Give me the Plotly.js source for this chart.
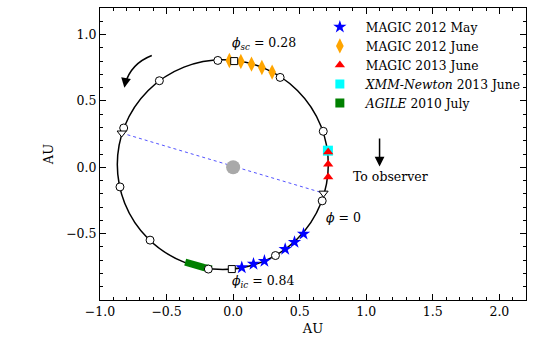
<!DOCTYPE html>
<html>
<head>
<meta charset="utf-8">
<script src="https://cdn.plot.ly/plotly-3.0.1.min.js"></script>
<style>
  html, body { margin: 0; padding: 0; background: #fff; }
  #chart { width: 535px; height: 347px; }
</style>
</head>
<body>
<div id="chart"></div>
<script>
// orbit outline (extent of the drawn ellipse, AU)
const orbitXRange = [-0.87, 0.715];
const orbitYRange = [-0.77, 0.81];

// phase markers every 0.1 in phase (open circles)
const phaseX = [-0.115, 0.353, 0.677, 0.669, 0.318, -0.186, -0.624, -0.85, -0.822, -0.554];
const phaseY = [0.805, 0.677, 0.271, -0.253, -0.665, -0.767, -0.549, -0.148, 0.296, 0.652];

// superior / inferior conjunction (open squares)
const conjX = [0.008, -0.01];
const conjY = [0.80, -0.767];

// line of apsides ends (open down triangles)
const apsX = [-0.837, 0.679];
const apsY = [0.258, -0.195];

// observation campaigns
const magicMayX = [0.065, 0.153, 0.235, 0.391, 0.461, 0.529];
const magicMayY = [-0.755, -0.729, -0.707, -0.617, -0.564, -0.502];

const magicJuneX = [-0.028, 0.058, 0.138, 0.216, 0.293];
const magicJuneY = [0.805, 0.797, 0.777, 0.752, 0.717];

const magic2013X = [0.714, 0.714, 0.714];
const magic2013Y = [0.115, 0.023, -0.073];

const xmmX = [0.712];
const xmmY = [0.125];

const agileX = [-0.36, -0.29, -0.22, -0.16];
const agileY = [-0.715, -0.738, -0.755, -0.766];

// compact object star at the focus
const starX = [0];
const starY = [0];

// tick labels
const xTicks = [-1.0, -0.5, 0.0, 0.5, 1.0, 1.5, 2.0];
const yTicks = [-0.5, 0.0, 0.5, 1.0];

const serif = "'DejaVu Serif', serif";

const traces = [
  {
    x: apsX, y: apsY, type: 'scatter', mode: 'lines', showlegend: false, hoverinfo: 'skip',
    line: { color: 'rgba(40,40,255,0.8)', width: 1, dash: 'dot' },
  },
  {
    x: starX, y: starY, type: 'scatter', mode: 'markers', showlegend: false,
    marker: { color: '#a9a9a9', size: 14 },
  },
  {
    x: magicMayX, y: magicMayY, type: 'scatter', mode: 'markers', name: 'MAGIC 2012 May',
    marker: { symbol: 'star', color: '#0000ff', size: 10 },
  },
  {
    x: magicJuneX, y: magicJuneY, type: 'scatter', mode: 'markers', name: 'MAGIC 2012 June',
    marker: { symbol: 'diamond-tall', color: '#ffa500', size: 11 },
  },
  {
    x: xmmX, y: xmmY, type: 'scatter', mode: 'markers', showlegend: false, legendgroup: 'xmm',
    marker: { symbol: 'square', color: '#00ffff', size: 10 },
  },
  {
    x: magic2013X, y: magic2013Y, type: 'scatter', mode: 'markers', name: 'MAGIC 2013 June',
    marker: { symbol: 'triangle-up', color: '#ff0000', size: 9 },
  },
  {
    x: [null], y: [null], type: 'scatter', mode: 'markers', name: '<i>XMM-Newton</i> 2013 June',
    legendgroup: 'xmm',
    marker: { symbol: 'square', color: '#00ffff', size: 9 },
  },
  {
    x: agileX, y: agileY, type: 'scatter', mode: 'lines', showlegend: false, legendgroup: 'agile',
    line: { color: '#008000', width: 7 },
  },
  {
    x: [null], y: [null], type: 'scatter', mode: 'markers', name: '<i>AGILE</i> 2010 July',
    legendgroup: 'agile',
    marker: { symbol: 'square', color: '#008000', size: 9 },
  },
  {
    x: phaseX, y: phaseY, type: 'scatter', mode: 'markers', showlegend: false,
    marker: { symbol: 'circle', color: '#fff', size: 8, line: { color: '#000', width: 1 } },
  },
  {
    x: conjX, y: conjY, type: 'scatter', mode: 'markers', showlegend: false,
    marker: { symbol: 'square', color: '#fff', size: 7, line: { color: '#000', width: 1 } },
  },
  {
    x: apsX, y: apsY, type: 'scatter', mode: 'markers', showlegend: false,
    marker: { symbol: 'triangle-down', color: '#fff', size: 8, line: { color: '#000', width: 1 } },
  },
  // carrier for the mirrored top/right axes
  {
    x: [null], y: [null], xaxis: 'x2', yaxis: 'y2', type: 'scatter', mode: 'markers',
    showlegend: false, hoverinfo: 'skip',
  },
];

const axisCommon = {
  showgrid: false,
  zeroline: false,
  showline: true,
  linecolor: '#000',
  linewidth: 1,
  ticks: 'inside',
  ticklen: 6,
  tickwidth: 1,
  tickcolor: '#000',
  tickformat: '.1f',
  tickfont: { family: serif, size: 12.5, color: '#000' },
  minor: { tickmode: 'linear', tick0: 0, dtick: 0.1, ticks: 'inside', ticklen: 3, tickwidth: 1, tickcolor: '#000', showgrid: false },
};

const layout = {
  width: 535,
  height: 347,
  margin: { l: 100, r: 9, t: 8, b: 47, autoexpand: false },
  paper_bgcolor: '#fff',
  plot_bgcolor: '#fff',
  font: { family: serif, size: 13, color: '#000' },
  xaxis: {
    ...axisCommon,
    range: [-1, 2.2],
    tickmode: 'array', tickvals: xTicks,
    title: { text: 'AU', font: { family: serif, size: 13 }, standoff: 5 },
  },
  yaxis: {
    ...axisCommon,
    range: [-1, 1.2],
    tickmode: 'array', tickvals: yTicks,
    title: { text: 'AU', font: { family: serif, size: 13 }, standoff: 9 },
  },
  xaxis2: {
    ...axisCommon,
    overlaying: 'x', side: 'top', anchor: 'y',
    range: [-1, 2.2],
    tickmode: 'array', tickvals: xTicks,
    showticklabels: false,
  },
  yaxis2: {
    ...axisCommon,
    overlaying: 'y', side: 'right', anchor: 'x',
    range: [-1, 1.2],
    tickmode: 'array', tickvals: yTicks,
    showticklabels: false,
  },
  legend: {
    x: 0.502, y: 0.985, xanchor: 'left', yanchor: 'top',
    bgcolor: 'rgba(0,0,0,0)', borderwidth: 0, tracegroupgap: 0, itemwidth: 42,
    font: { family: serif, size: 12.3, color: '#000' },
  },
  shapes: [
    {
      type: 'circle', xref: 'x', yref: 'y', layer: 'below',
      x0: orbitXRange[0], x1: orbitXRange[1], y0: orbitYRange[0], y1: orbitYRange[1],
      line: { color: '#000', width: 1.5 },
    },
    {
      // rotation sense arrow shaft
      type: 'path', xref: 'x', yref: 'y',
      path: 'M -0.611,0.842 Q -0.77,0.78 -0.812,0.625',
      line: { color: '#000', width: 1.5 },
    },
  ],
  annotations: [
    {
      x: -0.817, y: 0.600, ax: -0.81, ay: 0.64, xref: 'x', yref: 'y', axref: 'x', ayref: 'y',
      text: '', showarrow: true, arrowhead: 2, arrowsize: 1.3, arrowwidth: 1.5, arrowcolor: '#000', standoff: 0,
    },
    {
      x: 1.10, y: 0.005, ax: 1.10, ay: 0.228, xref: 'x', yref: 'y', axref: 'x', ayref: 'y',
      text: '', showarrow: true, arrowhead: 2, arrowsize: 1.3, arrowwidth: 1.5, arrowcolor: '#000', standoff: 0,
    },
    {
      x: 1.185, y: -0.07, xref: 'x', yref: 'y', showarrow: false,
      text: 'To observer', font: { family: serif, size: 12.5 },
    },
    {
      x: 0.23, y: 0.93, xref: 'x', yref: 'y', showarrow: false,
      text: '<i>ϕ</i><sub><i>sc</i></sub> = 0.28', font: { family: serif, size: 12.5 },
    },
    {
      x: 0.23, y: -0.86, xref: 'x', yref: 'y', showarrow: false,
      text: '<i>ϕ</i><sub><i>ic</i></sub> = 0.84', font: { family: serif, size: 12.5 },
    },
    {
      x: 0.83, y: -0.378, xref: 'x', yref: 'y', showarrow: false,
      text: '<i>ϕ</i> = 0', font: { family: serif, size: 12.5 },
    },
  ],
};

Plotly.newPlot('chart', traces, layout, { displayModeBar: false, staticPlot: true });
</script>
</body>
</html>
